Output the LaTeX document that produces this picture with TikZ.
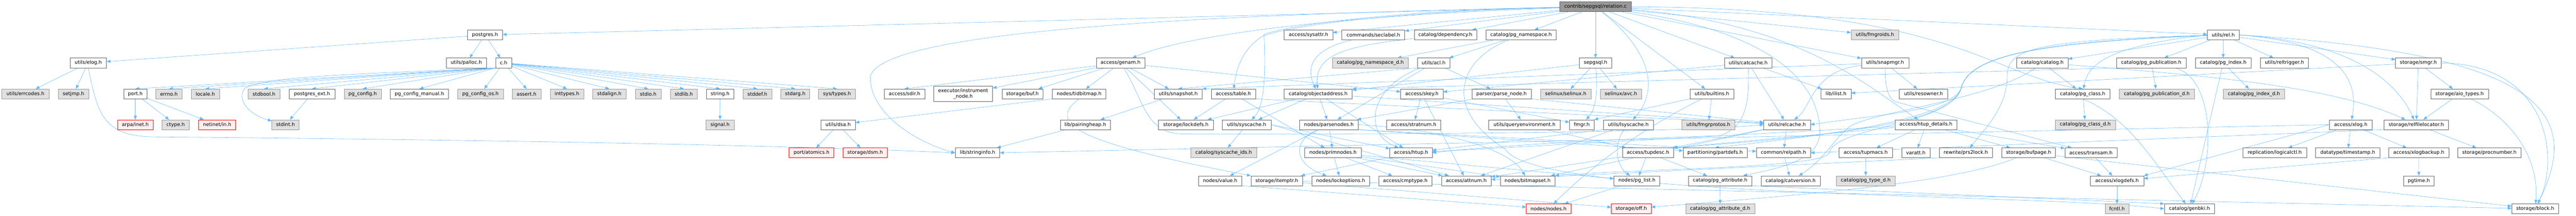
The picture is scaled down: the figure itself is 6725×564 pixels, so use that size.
\documentclass[tikz,border=0pt]{standalone}
\usepackage{fontspec}
\setmainfont{DejaVu Sans}
\usetikzlibrary{arrows.meta}
\definecolor{edgec}{HTML}{63B8FF}
\definecolor{bordw}{HTML}{666666}
\definecolor{fillg}{HTML}{E0E0E0}
\definecolor{bordg}{HTML}{999999}
\definecolor{fillr}{HTML}{FFF0F0}
\definecolor{rootf}{HTML}{999999}
\pgfdeclarelayer{edgelayer}
\pgfsetlayers{edgelayer,main}
\tikzset{
  wbox/.style={draw=bordw, fill=white, line width=0.8pt, minimum height=25.6pt, inner sep=0pt, text=black, font=\fontsize{12.8}{15}\selectfont},
  gbox/.style={wbox, draw=bordg, fill=fillg},
  rbox/.style={wbox, draw=red, fill=fillr},
  rootbox/.style={wbox, fill=rootf},
  inc/.style={draw=edgec, line width=0.75pt, -{Triangle[length=10pt,width=8pt]}},
}
\newcommand{\mkn}[5]{\node[#1,minimum width=#2pt] (#3) at (#4) {#5};}
\begin{document}
\begin{tikzpicture}[x=1pt,y=-1pt]
\useasboundingbox (0,0) rectangle (6725,564);
% row 0
\mkn{rootbox}{186.7}{root}{4165.3,17.6}{contrib/sepgsql/relation.c}
% row 1
\mkn{wbox}{91.4}{postgres}{1266.4,91.4}{postgres.h}
\mkn{wbox}{126.7}{sysattr}{3415.9,91.4}{access/sysattr.h}
\mkn{wbox}{164.1}{seclabel}{3585.4,91.4}{commands/seclabel.h}
\mkn{wbox}{162.7}{dependency}{3773.2,91.4}{catalog/dependency.h}
\mkn{wbox}{183.7}{pgnamespace}{3970.9,91.4}{catalog/pg\_namespace.h}
\mkn{gbox}{124.4}{fmgroids}{4894.7,91.4}{utils/fmgroids.h}
\mkn{wbox}{83.1}{rel}{5804,91.4}{utils/rel.h}
% row 2
\mkn{wbox}{95}{elog}{230.5,164.5}{utils/elog.h}
\mkn{wbox}{105.5}{palloc}{1217.3,164.5}{utils/palloc.h}
\mkn{wbox}{41.7}{ch}{1314.7,164.5}{c.h}
\mkn{wbox}{126.6}{genam}{2925.3,164.5}{access/genam.h}
\mkn{gbox}{198.5}{nsd}{3577.3,164.5}{catalog/pg\_namespace\_d.h}
\mkn{wbox}{85.3}{acl}{3742.6,164.5}{utils/acl.h}
\mkn{wbox}{84}{sepgsql}{4165.3,164.5}{sepgsql.h}
\mkn{wbox}{124}{catcache}{4564,164.5}{utils/catcache.h}
\mkn{wbox}{123.7}{snapmgr}{4921.2,164.5}{utils/snapmgr.h}
\mkn{wbox}{134.4}{catalog}{5331.8,164.5}{catalog/catalog.h}
\mkn{wbox}{182}{pubn}{5616,164.5}{catalog/pg\_publication.h}
\mkn{wbox}{145.8}{pgindex}{5803.9,164.5}{catalog/pg\_index.h}
\mkn{wbox}{125.1}{reltrigger}{5963.9,164.5}{utils/reltrigger.h}
\mkn{wbox}{118.8}{smgr}{6313.3,164.5}{storage/smgr.h}
% row 3
\mkn{gbox}{123.6}{errcodes}{66.4,245.5}{utils/errcodes.h}
\mkn{gbox}{79.2}{setjmp}{191.9,245.5}{setjmp.h}
\mkn{wbox}{59.7}{port}{353.3,245.5}{port.h}
\mkn{gbox}{68.5}{errno}{441,245.5}{errno.h}
\mkn{gbox}{73.9}{locale}{536,245.5}{locale.h}
\mkn{gbox}{83.4}{stdbool}{689.2,245.5}{stdbool.h}
\mkn{wbox}{119.8}{pgext}{814.5,245.5}{postgres\_ext.h}
\mkn{gbox}{96.5}{pgconfig}{946.8,245.5}{pg\_config.h}
\mkn{wbox}{152.3}{pgcman}{1094.9,245.5}{pg\_config\_manual.h}
\mkn{gbox}{119}{pgcos}{1254.5,245.5}{pg\_config\_os.h}
\mkn{gbox}{75.4}{assert}{1374.7,245.5}{assert.h}
\mkn{gbox}{87.3}{inttypes}{1480.2,245.5}{inttypes.h}
\mkn{gbox}{87.7}{stdalign}{1590.6,245.5}{stdalign.h}
\mkn{gbox}{67.3}{stdio}{1692.2,245.5}{stdio.h}
\mkn{gbox}{70.3}{stdlib}{1785.2,245.5}{stdlib.h}
\mkn{wbox}{71.2}{string}{1880,245.5}{string.h}
\mkn{gbox}{75}{stddef}{1977.2,245.5}{stddef.h}
\mkn{gbox}{75.4}{stdarg}{2076.1,245.5}{stdarg.h}
\mkn{gbox}{96.8}{systypes}{2185.2,245.5}{sys/types.h}
\mkn{wbox}{105.6}{sdir}{2361.4,245.5}{access/sdir.h}
\node[wbox,minimum width=153.8pt,minimum height=40.3pt,align=center] (instr) at (2514.4,245.5) {executor/instrument\\\_node.h};
\mkn{wbox}{106.8}{buf}{2669.2,245.5}{storage/buf.h}
\mkn{wbox}{140.2}{tidbitmap}{2817.1,245.5}{nodes/tidbitmap.h}
\mkn{wbox}{125.5}{snapshot}{3075.8,245.5}{utils/snapshot.h}
\mkn{wbox}{115.2}{table}{3219.9,245.5}{access/table.h}
\mkn{wbox}{177.5}{objaddr}{3441.3,245.5}{catalog/objectaddress.h}
\mkn{wbox}{110.6}{skey}{3711.9,245.5}{access/skey.h}
\mkn{wbox}{154.7}{parsenode}{3920,245.5}{parser/parse\_node.h}
\mkn{gbox}{132.4}{selinux}{4087.6,245.5}{selinux/selinux.h}
\mkn{gbox}{107.8}{avc}{4231.8,245.5}{selinux/avc.h}
\mkn{wbox}{115.2}{builtins}{4469.2,245.5}{utils/builtins.h}
\mkn{wbox}{78.7}{ilist}{4793.2,245.5}{lib/ilist.h}
\mkn{wbox}{125.9}{resowner}{5021.4,245.5}{utils/resowner.h}
\mkn{wbox}{143.1}{pgclass}{5437.2,245.5}{catalog/pg\_class.h}
\mkn{gbox}{196.3}{pubd}{5630.6,245.5}{catalog/pg\_publication\_d.h}
\mkn{gbox}{160.8}{indexd}{5884.1,245.5}{catalog/pg\_index\_d.h}
\mkn{wbox}{151.2}{aio}{6421,245.5}{storage/aio\_types.h}
% row 4
\mkn{rbox}{92.5}{arpa}{353.3,326}{arpa/inet.h}
\mkn{gbox}{71.1}{ctype}{458.5,326}{ctype.h}
\mkn{rbox}{96.3}{netinet}{566.8,326}{netinet/in.h}
\mkn{gbox}{71.2}{stdint}{745.4,326}{stdint.h}
\mkn{gbox}{73.8}{signal}{1879.8,326}{signal.h}
\mkn{wbox}{89.5}{dsa}{2188,326}{utils/dsa.h}
\mkn{wbox}{130.9}{pairing}{2833.3,326}{lib/pairingheap.h}
\mkn{wbox}{142.7}{lockdefs}{3095.9,326}{storage/lockdefs.h}
\mkn{wbox}{127}{syscache}{3254.5,326}{utils/syscache.h}
\mkn{wbox}{152.3}{parsenodes}{3469.2,326}{nodes/parsenodes.h}
\mkn{wbox}{141.2}{stratnum}{3690.5,326}{access/stratnum.h}
\mkn{wbox}{187.1}{queryenv}{3979.9,326}{utils/queryenvironment.h}
\mkn{wbox}{64.3}{fmgr}{4129.3,326}{fmgr.h}
\mkn{wbox}{130.5}{lsyscache}{4250.8,326}{utils/lsyscache.h}
\mkn{gbox}{138.4}{fmgrprotos}{4459.8,326}{utils/fmgrprotos.h}
\mkn{wbox}{121.7}{relcache}{4665.4,326}{utils/relcache.h}
\mkn{wbox}{162.6}{htupd}{5027.9,326}{access/htup\_details.h}
\mkn{gbox}{157.3}{classd}{5443.9,326}{catalog/pg\_class\_d.h}
\mkn{wbox}{111}{xlog}{6136.9,326}{access/xlog.h}
\mkn{wbox}{168.3}{relfile}{6308,326}{storage/relfilelocator.h}
% row 5
\mkn{rbox}{116.8}{atomics}{2118.6,399.6}{port/atomics.h}
\mkn{rbox}{115.6}{dsm}{2258.5,399.6}{storage/dsm.h}
\mkn{wbox}{116.3}{stringinfo}{2552,399.6}{lib/stringinfo.h}
\mkn{gbox}{171.8}{syscacheids}{3194.6,399.6}{catalog/syscache\_ids.h}
\mkn{wbox}{147}{primnodes}{3479.9,399.6}{nodes/primnodes.h}
\mkn{wbox}{110.6}{htup}{3683.6,399.6}{access/htup.h}
\mkn{wbox}{134}{tupdesc}{4302.2,399.6}{access/tupdesc.h}
\mkn{wbox}{166.9}{partdefs}{4477.5,399.6}{partitioning/partdefs.h}
\mkn{wbox}{141.2}{relpath}{4656,399.6}{common/relpath.h}
\mkn{wbox}{139}{tupmacs}{4870.5,399.6}{access/tupmacs.h}
\mkn{wbox}{73.8}{varatt}{5001.5,399.6}{varatt.h}
\mkn{wbox}{138.9}{prs2lock}{5132,399.6}{rewrite/prs2lock.h}
\mkn{wbox}{140}{bufpage}{5296,399.6}{storage/bufpage.h}
\mkn{wbox}{136.2}{transam}{5458.6,399.6}{access/transam.h}
\mkn{wbox}{166.7}{logicalctl}{5938.4,399.6}{replication/logicalctl.h}
\mkn{wbox}{167.4}{timestamp}{6129,399.6}{datatype/timestamp.h}
\mkn{wbox}{156.3}{xlogbackup}{6314.5,399.6}{access/xlogbackup.h}
\mkn{wbox}{164.2}{procnumber}{6498.7,399.6}{storage/procnumber.h}
% row 6
\mkn{wbox}{113.3}{value}{3185.3,472.7}{nodes/value.h}
\mkn{wbox}{135.1}{itemptr}{3333.2,472.7}{storage/itemptr.h}
\mkn{wbox}{150.8}{lockopt}{3499.8,472.7}{nodes/lockoptions.h}
\mkn{wbox}{139.5}{cmptype}{3668.8,472.7}{access/cmptype.h}
\mkn{wbox}{129.8}{attnum}{3827.9,472.7}{access/attnum.h}
\mkn{wbox}{142.7}{bitmapset}{3987.9,472.7}{nodes/bitmapset.h}
\mkn{wbox}{119.8}{pglist}{4273.3,472.7}{nodes/pg\_list.h}
\mkn{wbox}{165.3}{pgattr}{4490.5,472.7}{catalog/pg\_attribute.h}
\mkn{wbox}{155}{catversion}{4674.7,472.7}{catalog/catversion.h}
\mkn{gbox}{153.3}{typed}{4870.7,472.7}{catalog/pg\_type\_d.h}
\mkn{wbox}{139.3}{xlogdefs}{5526.7,472.7}{access/xlogdefs.h}
\mkn{wbox}{80}{pgtime}{6314.7,472.7}{pgtime.h}
% row 7
\mkn{rbox}{116}{nodesh}{4042.6,546}{nodes/nodes.h}
\mkn{rbox}{104.1}{off}{4258.6,546}{storage/off.h}
\mkn{gbox}{180.3}{attrd}{4490.7,546}{catalog/pg\_attribute\_d.h}
\mkn{gbox}{62.7}{fcntl}{5526.7,546}{fcntl.h}
\mkn{wbox}{131.2}{genbki}{5715.9,546}{catalog/genbki.h}
\mkn{wbox}{122.5}{block}{6618.5,546}{storage/block.h}

\begin{pgfonlayer}{edgelayer}
\fill[white] (0,0) rectangle (6725,564);
% root
\draw[inc] (root) -- (postgres);
\draw[inc] (root) .. controls (3500,40) and (3100,90) .. (genam);
\draw[inc] (root) .. controls (4700,60) and (4880,230) .. (htupd);
\draw[inc] (root) -- (sysattr);
\draw[inc] (root) .. controls (3700,28) and (3380,62) .. (3295,95) .. controls (3240,130) and (3225,190) .. (table);
\draw[inc] (root) -- (dependency);
\draw[inc] (root) .. controls (4600,80) and (4740,200) .. (4750,330) .. controls (4765,420) and (4640,440) .. (pgattr);
\draw[inc] (root) .. controls (5100,20) and (5200,200) .. (pgclass.north);
\draw[inc] (root) -- (pgnamespace);
\draw[inc] (root) -- (seclabel);
\draw[inc] (root) .. controls (3000,40) and (2300,90) .. (2272,200) .. controls (2270,300) and (2400,375) .. (stringinfo.west);
\draw[inc] (root) -- (sepgsql);
\draw[inc] (root) -- (builtins);
\draw[inc] (root) -- (catcache);
\draw[inc] (root) -- (fmgroids);
\draw[inc] (root) .. controls (4330,150) and (4320,250) .. (lsyscache);
\draw[inc] (root) -- (rel);
\draw[inc] (root) -- (snapmgr);
\draw[inc] (root) .. controls (3700,25) and (3380,60) .. (3300,90) .. controls (3305,200) and (3300,280) .. (syscache);
% postgres.h
\draw[inc] (postgres) -- (ch);
\draw[inc] (postgres) -- (palloc);
\draw[inc] (postgres) -- (elog);
% elog
\draw[inc] (elog) -- (errcodes);
\draw[inc] (elog) -- (setjmp);
\draw[inc] (elog.south) .. controls (255,300) and (270,355) .. (400,358) .. controls (1200,365) and (2000,378) .. (stringinfo.west);
% c.h
\foreach \t in {port,errno,locale,stdbool,pgext,pgconfig,pgcman} \draw[inc] (ch.south west) -- (\t.north);
\draw[inc] (ch) -- (pgcos);
\foreach \t in {assert,inttypes,stdalign,stdio,stdlib,string,stddef,stdarg,systypes} \draw[inc] (ch) -- (\t.north);
\draw[inc] (ch.south west) .. controls (900,195) and (700,200) .. (640,230) .. controls (615,260) and (650,300) .. (stdint);
\draw[inc] (port) -- (arpa);
\draw[inc] (port) -- (ctype);
\draw[inc] (port) -- (netinet);
\draw[inc] (pgext) -- (stdint);
\draw[inc] (string) -- (signal);
% genam
\draw[inc] (genam) -- (sdir.north);
\draw[inc] (genam) -- (instr);
\draw[inc] (genam) -- (buf);
\draw[inc] (genam) -- (tidbitmap);
\draw[inc] (genam) -- (snapshot);
\draw[inc] (genam) -- (lockdefs);
\draw[inc] (genam) -- (skey);
\draw[inc] (genam) .. controls (2985,260) and (2990,345) .. (3080,350) .. controls (3800,352) and (4400,345) .. (relcache.west);
\draw[inc] (tidbitmap.south west) -- (dsa);
\draw[inc] (tidbitmap.south) .. controls (2720,330) and (2850,380) .. (itemptr.north west);
\draw[inc] (dsa) -- (atomics);
\draw[inc] (dsa) -- (dsm);
\draw[inc] (pairing) -- (stringinfo);
\draw[inc] (snapshot) -- (pairing);
% table
\draw[inc] (table) -- (lockdefs);
\draw[inc] (table) -- (primnodes);
\draw[inc] (table.south east) -- (relcache);
% objectaddress
\draw[inc] (objaddr) -- (lockdefs);
\draw[inc] (objaddr) -- (syscache);
\draw[inc] (objaddr) -- (parsenodes);
\draw[inc] (objaddr) -- (htup);
\draw[inc] (objaddr) -- (relcache);
% syscache
\draw[inc] (syscache) -- (syscacheids);
\draw[inc] (syscache.east) -- (attnum);
\draw[inc] (syscache.east) -- (htup);
% parsenodes
\draw[inc] (parsenodes) -- (value);
\draw[inc] (parsenodes) .. controls (3370,370) and (3380,430) .. (lockopt);
\draw[inc] (parsenodes) -- (primnodes);
\draw[inc] (parsenodes.east) .. controls (3800,340) and (3950,400) .. (bitmapset);
\draw[inc] (parsenodes.south east) -- (partdefs);
\draw[inc] (parsenodes.south east) -- (relpath);
% primnodes
\draw[inc] (primnodes) -- (attnum);
\draw[inc] (primnodes) -- (cmptype);
\draw[inc] (primnodes) -- (bitmapset);
\draw[inc] (primnodes) -- (pglist);
\draw[inc] (primnodes) -- (lockopt);
\draw[inc] (itemptr) -- (block);
\draw[inc] (itemptr) -- (off);
\draw[inc] (htup) -- (itemptr);
\draw[inc] (value.south east) -- (nodesh);
% skey
\draw[inc] (skey) -- (stratnum);
\draw[inc] (skey) -- (attnum);
\draw[inc] (skey) -- (fmgr);
% acl
\draw[inc] (acl) .. controls (3570,230) and (3560,350) .. (htup);
\draw[inc] (acl) -- (parsenodes);
\draw[inc] (acl) -- (parsenode);
\draw[inc] (acl.south west) -- (snapshot.north);
% pg_namespace
\draw[inc] (pgnamespace) -- (nsd);
\draw[inc] (pgnamespace) -- (acl);
\draw[inc] (pgnamespace) .. controls (3800,160) and (3770,290) .. (3930,390) .. controls (4000,520) and (5300,505) .. (genbki.west);
\draw[inc] (dependency) .. controls (3520,120) and (3430,140) .. (objaddr);
\draw[inc] (seclabel) .. controls (3420,130) and (3410,180) .. (objaddr);
% sepgsql
\draw[inc] (sepgsql) -- (selinux);
\draw[inc] (sepgsql) -- (avc);
\draw[inc] (sepgsql) -- (objaddr);
\draw[inc] (sepgsql) .. controls (4170,230) and (4170,280) .. (fmgr);
% parse_node
\draw[inc] (parsenode) -- (parsenodes);
\draw[inc] (parsenode) -- (queryenv);
\draw[inc] (parsenode.south east) -- (relcache);
\draw[inc] (queryenv) -- (tupdesc);
% lsyscache
\draw[inc] (lsyscache) -- (attnum);
\draw[inc] (lsyscache.south west) -- (htup);
\draw[inc] (lsyscache) .. controls (4215,370) and (4215,430) .. (pglist);
% builtins
\draw[inc] (builtins.south west) -- (fmgr.north east);
\draw[inc] (builtins) -- (fmgrprotos);
\draw[inc] (builtins) .. controls (4300,330) and (4170,420) .. (nodesh);
% catcache
\draw[inc] (catcache) -- (skey);
\draw[inc] (catcache) .. controls (4566,250) and (4566,330) .. (4490,355) .. controls (4300,360) and (3900,380) .. (htup.east);
\draw[inc] (catcache) -- (ilist);
\draw[inc] (catcache) -- (relcache);
% relcache
\draw[inc] (relcache) -- (relpath);
\draw[inc] (relcache) -- (tupdesc);
\draw[inc] (relcache) -- (bitmapset);
\draw[inc] (tupdesc) -- (pglist);
\draw[inc] (tupdesc) -- (pgattr);
\draw[inc] (tupdesc) -- (attnum);
\draw[inc] (relpath) -- (catversion);
\draw[inc] (pglist) -- (nodesh);
\draw[inc] (pgattr) -- (attrd);
\draw[inc] (pgattr.south east) -- (genbki.north west);
% snapmgr
\draw[inc] (snapmgr) -- (resowner);
\draw[inc] (snapmgr) .. controls (4922,230) and (4928,262) .. (4955,268) -- (transam);
\draw[inc] (snapmgr) .. controls (4730,185) and (4730,280) .. (relcache);
\draw[inc] (snapmgr) -- (snapshot.north east);
% catalog
\draw[inc] (catalog) .. controls (5200,260) and (4900,290) .. (4830,330) .. controls (4790,360) and (4760,420) .. (catversion);
\draw[inc] (catalog) -- (pgclass);
\draw[inc] (catalog) .. controls (5800,200) and (6100,230) .. (relfile);
\draw[inc] (pgclass) -- (classd);
\draw[inc] (pgclass.south) .. controls (5560,310) and (5620,420) .. (genbki);
% htup_details
\draw[inc] (htupd) -- (htup);
\draw[inc] (htupd) -- (transam);
\draw[inc] (htupd) -- (tupdesc.north east);
\draw[inc] (htupd) -- (tupmacs);
\draw[inc] (htupd) -- (varatt);
\draw[inc] (htupd) -- (bufpage);
\draw[inc] (tupmacs) -- (typed);
\draw[inc] (prs2lock.south west) -- (attnum);
\draw[inc] (bufpage) -- (xlogdefs);
\draw[inc] (bufpage) -- (block);
\draw[inc] (bufpage) .. controls (5100,480) and (4700,510) .. (off);
\draw[inc] (transam) -- (xlogdefs);
% rel
\draw[inc] (rel) -- (catalog);
\draw[inc] (rel.west) .. controls (5500,120) and (5450,170) .. (pgclass);
\draw[inc] (rel) -- (pgindex);
\draw[inc] (rel) -- (pubn);
\draw[inc] (rel) -- (reltrigger);
\draw[inc] (rel) -- (smgr);
\draw[inc] (rel.east) .. controls (6100,110) and (6160,200) .. (xlog);
\draw[inc] (rel.east) .. controls (6150,110) and (6260,220) .. (relfile);
\draw[inc] (rel.east) .. controls (6650,140) and (6740,300) .. (block);
\draw[inc] (rel) .. controls (5300,105) and (5240,130) .. (5240,200) .. controls (5240,280) and (5180,340) .. (prs2lock);
\draw[inc] (rel) .. controls (5300,110) and (5140,150) .. (5120,230) .. controls (5100,290) and (4900,300) .. (relcache.east);
\draw[inc] (rel) .. controls (5300,110) and (5140,150) .. (5120,230) .. controls (5100,320) and (4800,355) .. (tupdesc.north east);
\draw[inc] (rel) .. controls (5300,110) and (5140,150) .. (5120,230) .. controls (5100,320) and (4700,360) .. (partdefs.north);
\draw[inc] (rel) .. controls (5300,110) and (5140,150) .. (5120,230) .. controls (5090,330) and (4790,330) .. (4775,400) .. controls (4760,440) and (4300,440) .. (bitmapset.north east);
% publication / index
\draw[inc] (pubn) .. controls (5780,200) and (5785,420) .. (genbki);
\draw[inc] (pubn) -- (pubd);
\draw[inc] (pubn.south west) -- (objaddr.north east);
\draw[inc] (pgindex) -- (genbki);
\draw[inc] (pgindex) -- (indexd);
% smgr
\draw[inc] (smgr) -- (aio);
\draw[inc] (smgr) -- (relfile);
\draw[inc] (smgr.east) .. controls (6660,170) and (6680,420) .. (block);
\draw[inc] (smgr) -- (ilist);
\draw[inc] (aio) .. controls (6540,300) and (6630,400) .. (block);
\draw[inc] (aio) -- (relfile);
% xlog
\draw[inc] (xlog) -- (xlogbackup);
\draw[inc] (xlog) -- (timestamp);
\draw[inc] (xlog.west) -- (xlogdefs.north east);
\draw[inc] (xlog) -- (logicalctl);
\draw[inc] (xlog.west) -- (stringinfo.east);
\draw[inc] (relfile.south west) -- (relpath.east);
\draw[inc] (relfile) -- (procnumber);
\draw[inc] (xlogbackup.south west) -- (xlogdefs);
\draw[inc] (xlogbackup) -- (pgtime);
\draw[inc] (xlogdefs) -- (fcntl);
\end{pgfonlayer}
\end{tikzpicture}
\end{document}
